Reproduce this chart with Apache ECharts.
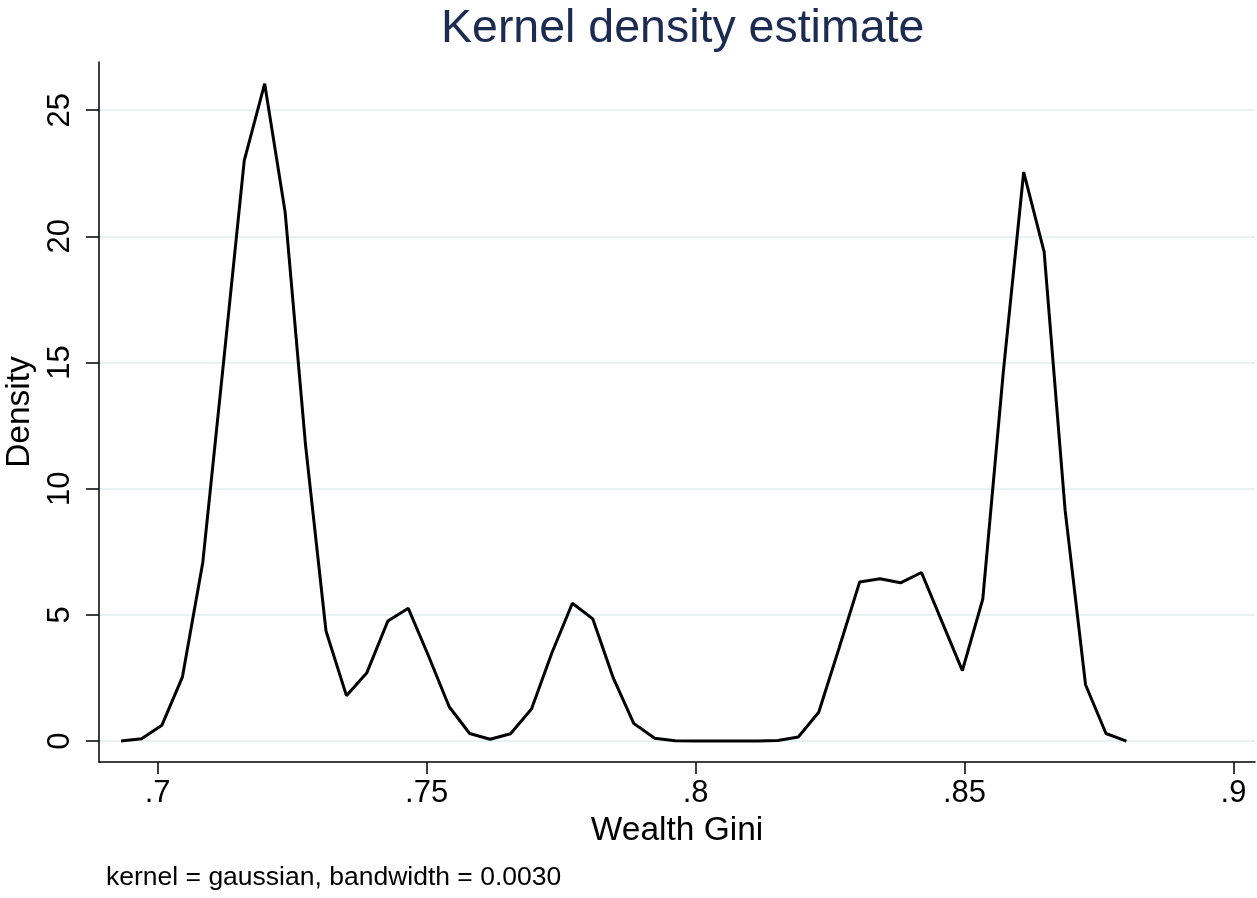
<!DOCTYPE html>
<html>
<head>
<meta charset="utf-8">
<script src="https://cdn.jsdelivr.net/npm/echarts@6/dist/echarts.min.js"></script>
<style>
  html, body { margin: 0; padding: 0; background: #fff; }
  #chart { width: 1257px; height: 898px; }
</style>
</head>
<body>
<div id="chart"></div>
<script>
// Evaluation points of the density estimate (Wealth Gini)
const giniPoints = [
  0.6932, 0.6970, 0.7008, 0.7046, 0.7084, 0.7122, 0.7161, 0.7199, 0.7237, 0.7275,
  0.7313, 0.7351, 0.7389, 0.7428, 0.7466, 0.7504, 0.7542, 0.7580, 0.7618, 0.7656,
  0.7695, 0.7733, 0.7771, 0.7809, 0.7847, 0.7885, 0.7924, 0.7962, 0.8000, 0.8038,
  0.8076, 0.8114, 0.8153, 0.8191, 0.8229, 0.8267, 0.8305, 0.8343, 0.8381, 0.8420,
  0.8458, 0.8496, 0.8534, 0.8572, 0.8610, 0.8648, 0.8687, 0.8725, 0.8763, 0.8801
];

// Estimated density at each point
const densityValues = [
  0.00, 0.09, 0.63, 2.53, 7.09, 14.9, 23.0, 26.05, 20.97, 11.72,
  4.36, 1.80, 2.71, 4.76, 5.26, 3.35, 1.36, 0.30, 0.07, 0.29,
  1.27, 3.50, 5.46, 4.84, 2.50, 0.70, 0.11, 0.01, 0.00, 0.00,
  0.00, 0.00, 0.02, 0.16, 1.14, 3.70, 6.30, 6.43, 6.27, 6.68,
  4.73, 2.79, 5.63, 14.6, 22.55, 19.39, 9.15, 2.23, 0.30, 0.00
];

// Tick labels
const xTicks = [0.7, 0.75, 0.8, 0.85, 0.9];
const yTicks = [0, 5, 10, 15, 20, 25];

const titleText = 'Kernel density estimate';
const xTitle = 'Wealth Gini';
const yTitle = 'Density';
const noteText = 'kernel = gaussian, bandwidth = 0.0030';

// Stata-style decimals without the leading zero
const fmtX = v => String(v).replace(/^0/, '');

const FONT = '"Liberation Sans", Arial, sans-serif';

const chart = echarts.init(document.getElementById('chart'), null, { renderer: 'canvas' });

chart.setOption({
  backgroundColor: '#ffffff',
  animation: false,
  title: [
    {
      // centred over the plot region rather than the whole page
      text: titleText,
      left: 436,
      top: 1,
      textStyle: { fontFamily: FONT, fontSize: 46.5, fontWeight: 'normal', color: '#1c2b52' }
    },
    {
      text: noteText,
      left: 101,
      top: 859,
      textStyle: { fontFamily: FONT, fontSize: 26.5, fontWeight: 'normal', color: '#000' }
    }
  ],
  grid: { left: 99, right: 2, top: 62, bottom: 136, outerBoundsMode: 'none', containLabel: false },
  xAxis: {
    type: 'value',
    min: 0.6891,
    max: 0.904,
    name: xTitle,
    nameLocation: 'middle',
    nameGap: 50,
    nameTextStyle: { fontFamily: FONT, fontSize: 33.5, color: '#000' },
    axisLine: { show: true, onZero: false, lineStyle: { color: '#000', width: 1.5 } },
    axisTick: { show: true, length: 12, lineStyle: { color: '#000', width: 1.5 }, customValues: xTicks },
    axisLabel: {
      fontFamily: FONT, fontSize: 31, color: '#000', margin: 16,
      customValues: xTicks, formatter: v => fmtX(v)
    },
    splitLine: { show: false }
  },
  yAxis: {
    type: 'value',
    min: -0.83,
    max: 26.91,
    name: yTitle,
    nameLocation: 'middle',
    nameGap: 62,
    nameRotate: 90,
    nameTextStyle: { fontFamily: FONT, fontSize: 33.5, color: '#000' },
    axisLine: { show: true, onZero: false, lineStyle: { color: '#000', width: 1.5 } },
    axisTick: { show: true, length: 13, lineStyle: { color: '#000', width: 1.5 }, customValues: yTicks },
    axisLabel: {
      fontFamily: FONT, fontSize: 31, color: '#000', margin: 23, rotate: 90,
      customValues: yTicks, formatter: v => String(v)
    },
    splitLine: { show: true, lineStyle: { color: '#eaf1f3', width: 2 } }
  },
  series: [{
    type: 'line',
    data: giniPoints.map((x, i) => [x, densityValues[i]]),
    showSymbol: false,
    smooth: false,
    lineStyle: { color: '#000', width: 3 },
    clip: false
  }]
});
</script>
</body>
</html>
